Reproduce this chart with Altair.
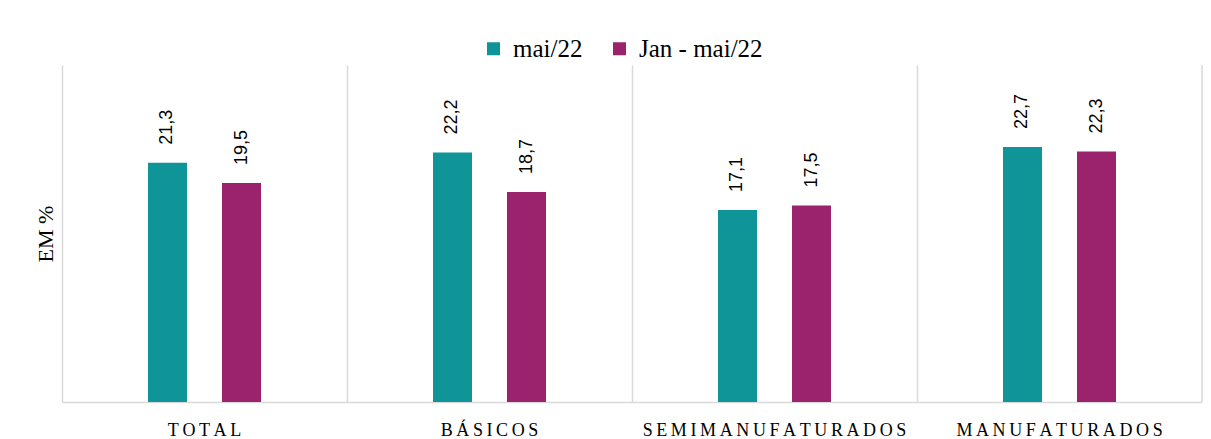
import altair as alt
import pandas as pd

categories = ["TOTAL", "BÁSICOS", "SEMIMANUFATURADOS", "MANUFATURADOS"]
series = ["mai/22", "Jan - mai/22"]
mai22 = [21.3, 22.2, 17.1, 22.7]
jan_mai22 = [19.5, 18.7, 17.5, 22.3]
colors = ["#0F9597", "#9B226D"]

rows = []
for c, a, b in zip(categories, mai22, jan_mai22):
    rows.append({"cat": c, "serie": series[0], "v": a})
    rows.append({"cat": c, "serie": series[1], "v": b})
df = pd.DataFrame(rows)
df["lbl"] = df["v"].map(lambda v: f"{v:.1f}".replace(".", ","))

W, H = 1140, 337
GRID = "#d9d9d9"

x = alt.X(
    "cat:N",
    sort=categories,
    scale=alt.Scale(paddingInner=0, paddingOuter=0),
    axis=alt.Axis(
        title=None, labelAngle=0, domain=True, domainColor=GRID, domainWidth=1.5,
        ticks=False, grid=True, gridColor=GRID, gridWidth=1.5, bandPosition=0,
        labelFont="Liberation Serif", labelFontSize=18, labelColor="#000",
        labelPadding=19, labelBaseline="top", labelLimit=0,
        labelExpr="join(split(datum.label, ''), '\u2009')",
    ),
)
xo = alt.XOffset(
    "serie:N", sort=series,
    scale=alt.Scale(range=[86, 199], paddingInner=0.473, paddingOuter=0),
)
y = alt.Y(
    "v:Q",
    scale=alt.Scale(domain=[0, 30]),
    axis=alt.Axis(
        title="EM %", labels=False, ticks=False, grid=False, domain=False,
        titleFont="Liberation Serif", titleFontSize=22, titleFontWeight="normal",
        titleColor="#000", titlePadding=5,
    ),
)
color = alt.Color(
    "serie:N", sort=series,
    scale=alt.Scale(domain=series, range=colors),
    legend=alt.Legend(
        title=None, orient="none", direction="horizontal", legendX=419, legendY=-29,
        symbolType="square", symbolSize=169, symbolStrokeWidth=0,
        labelFont="Liberation Serif", labelFontSize=25, labelColor="#000",
        labelOffset=7, columnPadding=24,
    ),
)

base = alt.Chart(df)
bars = base.mark_bar().encode(x=x, xOffset=xo, y=y, color=color)
labels = base.mark_text(
    angle=270, align="left", baseline="middle", dx=18,
    font="Liberation Sans", fontSize=18, color="#000",
).encode(x=x, xOffset=xo, y=y, text="lbl:N")
edge = alt.Chart(pd.DataFrame({"a": [0]})).mark_rule(
    color=GRID, strokeWidth=1.5
).encode(x=alt.value(W), y=alt.value(0), y2=alt.value(H))

chart = (
    alt.layer(bars, labels, edge)
    .properties(
        width=W, height=H,
        autosize=alt.AutoSizeParams(type="none"),
        padding={"left": 54, "top": 57, "right": 1, "bottom": 45},
        background="white",
    )
    .configure_view(stroke=None)
)

chart.save("out.html", embed_options={"renderer": "svg", "actions": False})
